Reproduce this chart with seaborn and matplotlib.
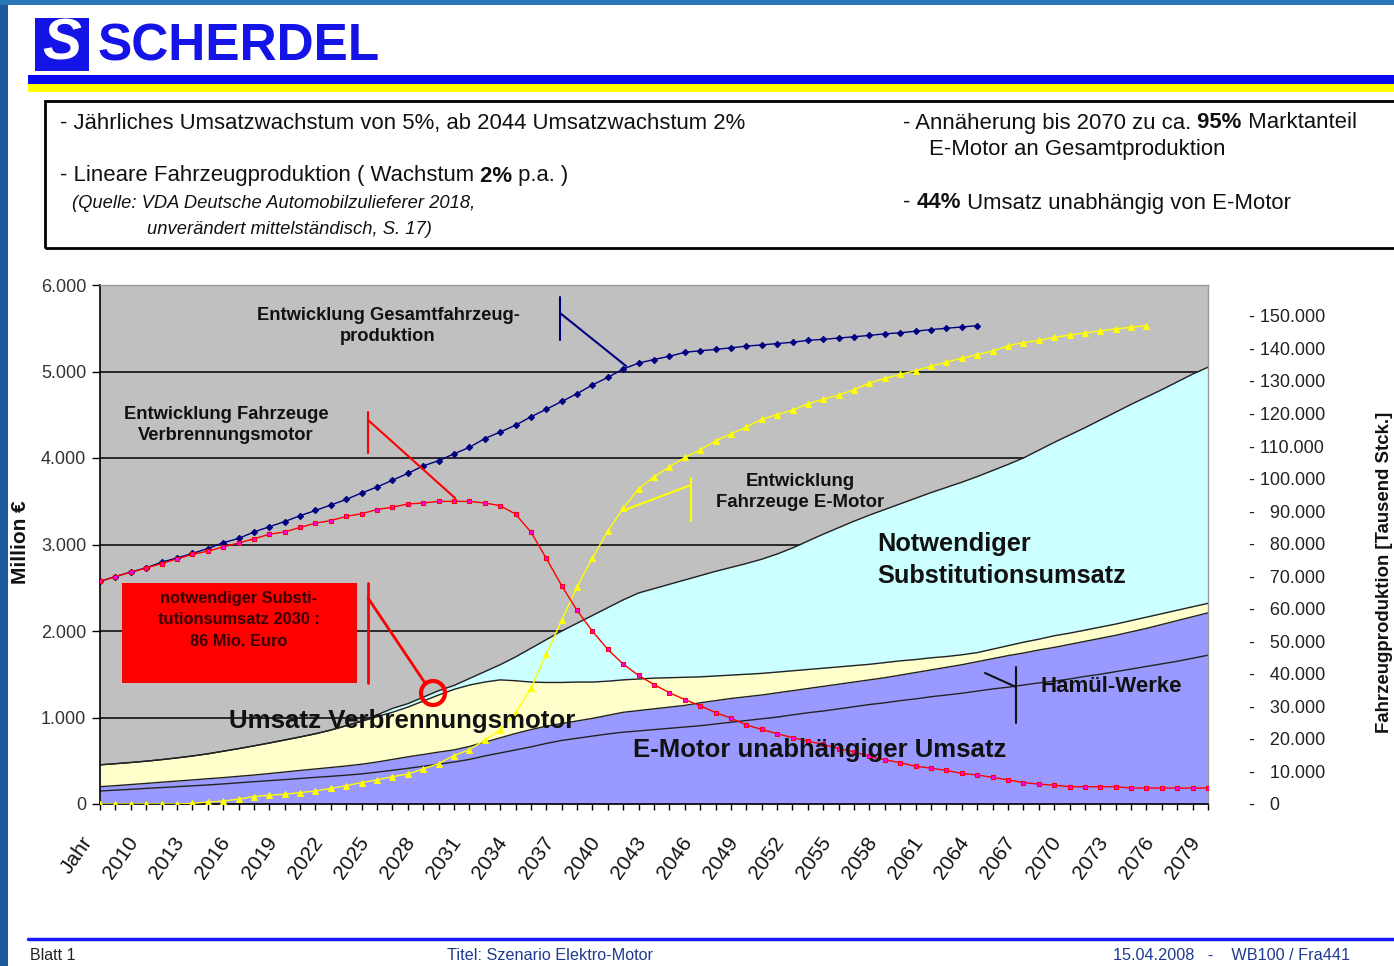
import matplotlib
matplotlib.use("Agg")
import matplotlib.pyplot as plt
from matplotlib.patches import Rectangle, Ellipse
from matplotlib.lines import Line2D
from matplotlib.transforms import ScaledTranslation
import seaborn as sns
import numpy as np

# ---------------------------------------------
# Daten - Position 0 = "Jahr", dann 2008 ... 2079
# ---------------------------------------------
tick_labels = ["Jahr", "2010", "2013", "2016", "2019", "2022", "2025", "2028", "2031",
               "2034", "2037", "2040", "2043", "2046", "2049", "2052", "2055", "2058",
               "2061", "2064", "2067", "2070", "2073", "2076", "2079"]

# Fahrzeugproduktion [Tausend Stck.] -> rechte Achse
gesamt_fzg = [68.4, 69.9, 71.3, 72.6, 74.3, 75.6, 77.0, 78.5, 80.3, 81.6,
              83.6, 85.2, 86.8, 88.6, 90.2, 91.9, 93.6, 95.6, 97.4, 99.5,
              101.6, 103.9, 105.5, 107.6, 109.6, 112.3, 114.3, 116.4, 119.0, 121.3,
              123.7, 126.1, 128.8, 131.1, 133.7, 135.5, 136.6, 137.6, 138.8, 139.3,
              139.7, 140.2, 140.7, 141.1, 141.5, 141.9, 142.5, 142.8, 143.2, 143.6,
              144.0, 144.5, 144.8, 145.3, 145.8, 146.2, 146.6, 147.0]
verbrenner_fzg = [68.4, 69.9, 71.2, 72.5, 73.9, 75.3, 76.7, 77.7, 79.0, 80.2,
                  81.5, 82.9, 83.6, 85.0, 86.3, 87.1, 88.4, 89.2, 90.5, 91.2,
                  92.2, 92.5, 93.0, 93.0, 93.0, 92.5, 91.7, 89.1, 83.6, 75.5,
                  67.1, 59.5, 53.1, 47.5, 43.0, 39.5, 36.7, 34.2, 32.1, 30.2,
                  28.1, 26.4, 24.3, 22.9, 21.6, 20.4, 19.3, 18.3, 17.0, 16.0,
                  14.6, 13.6, 12.7, 11.6, 11.0, 10.3, 9.4, 8.9, 8.2, 7.4,
                  6.6, 6.1, 5.8, 5.3, 5.3, 5.3, 5.3, 4.9, 4.9, 4.9,
                  4.9, 4.9, 4.9]
emotor_fzg = [0, 0, 0, 0, 0, 0, 0.2, 0.6, 0.9, 1.5,
              2.3, 2.7, 3.0, 3.5, 4.0, 4.8, 5.6, 6.6, 7.4, 8.4,
              9.2, 10.8, 12.4, 14.9, 16.7, 19.6, 22.7, 27.9, 35.5, 46.1,
              56.4, 66.8, 75.6, 83.9, 90.9, 96.9, 100.5, 103.6, 106.5, 108.8,
              111.6, 113.7, 115.9, 118.2, 119.7, 121.0, 123.0, 124.4, 125.7, 127.3,
              129.4, 130.8, 132.0, 133.2, 134.5, 135.8, 137.0, 138.1, 139.2, 140.8,
              141.8, 142.5, 143.4, 144.1, 144.8, 145.4, 146.0, 146.5, 147.0]

# Umsatz [Million €] - Obergrenzen der gestapelten Flaechen
hamuel_oben = [150, 160, 170, 180, 190, 200, 210, 220, 232, 245,
               258, 270, 282, 295, 308, 320, 333, 348, 368, 390,
               412, 436, 460, 485, 515, 555, 590, 625, 660, 700,
               735, 760, 785, 810, 830, 845, 860, 875, 890, 905,
               925, 945, 965, 985, 1005, 1030, 1055, 1075, 1100, 1125,
               1150, 1170, 1195, 1215, 1240, 1260, 1280, 1305, 1330, 1350,
               1375, 1400, 1420, 1445, 1475, 1500, 1530, 1560, 1590, 1620,
               1650, 1685, 1720]
unabh_oben = [200, 212, 225, 238, 252, 265, 278, 292, 305, 320,
              335, 352, 370, 388, 405, 422, 440, 460, 485, 515,
              545, 572, 600, 625, 665, 715, 765, 815, 860, 900,
              930, 960, 990, 1025, 1060, 1080, 1100, 1120, 1140, 1170,
              1195, 1220, 1240, 1260, 1285, 1310, 1335, 1360, 1385, 1410,
              1435, 1460, 1490, 1520, 1550, 1580, 1610, 1645, 1680, 1715,
              1745, 1780, 1810, 1845, 1880, 1915, 1950, 1990, 2030, 2075,
              2120, 2165, 2210]
verbrenner_oben = [453, 466, 480, 495, 513, 533, 555, 580, 610, 640,
                   672, 705, 740, 775, 812, 855, 905, 955, 1010, 1060,
                   1120, 1190, 1260, 1325, 1375, 1410, 1435, 1425, 1410, 1405,
                   1405, 1410, 1410, 1420, 1435, 1445, 1455, 1460, 1465, 1470,
                   1480, 1490, 1500, 1510, 1525, 1540, 1555, 1570, 1585, 1600,
                   1615, 1635, 1655, 1670, 1690, 1705, 1725, 1750, 1790, 1830,
                   1870, 1905, 1945, 1975, 2010, 2045, 2080, 2120, 2160, 2200,
                   2240, 2280, 2320]
substitution_oben = [453, 466, 480, 495, 513, 533, 555, 580, 610, 640,
                     672, 705, 740, 775, 812, 855, 905, 960, 1030, 1105,
                     1160, 1235, 1310, 1370, 1450, 1530, 1610, 1700, 1800, 1900,
                     2000, 2090, 2180, 2270, 2360, 2440, 2490, 2540, 2590, 2640,
                     2690, 2735, 2780, 2830, 2890, 2960, 3040, 3120, 3195, 3270,
                     3340, 3405, 3470, 3535, 3600, 3660, 3720, 3785, 3855, 3925,
                     4000, 4090, 4180, 4265, 4350, 4440, 4530, 4620, 4705, 4790,
                     4880, 4970, 5050]

links_labels = ["0", "1.000", "2.000", "3.000", "4.000", "5.000", "6.000"]
rechts_werte = [0, 10, 20, 30, 40, 50, 60, 70, 80, 90, 100, 110, 120, 130, 140, 150]
rechts_labels = ["-   0", "-   10.000", "-   20.000", "-   30.000", "-   40.000",
                 "-   50.000", "-   60.000", "-   70.000", "-   80.000", "-   90.000",
                 "- 100.000", "- 110.000", "- 120.000", "- 130.000", "- 140.000", "- 150.000"]

# ---------------------------------------------
# Figure
# ---------------------------------------------
W, H = 1394, 966
sns.set_theme(style="white")
plt.rcParams["font.family"] = ["Liberation Sans", "DejaVu Sans"]

fig = plt.figure(figsize=(W / 100, H / 100), dpi=100)
fig.patch.set_facecolor("white")


def fx(x):
    return x / W


def fy(y):
    return 1 - y / H


def linie(xs, ys, color, lw=1.5):
    fig.add_artist(Line2D([fx(x) for x in xs], [fy(y) for y in ys],
                          transform=fig.transFigure, color=color, lw=lw))


def rechteck(x0, y0, x1, y1, **kw):
    fig.add_artist(Rectangle((fx(x0), fy(y1)), (x1 - x0) / W, (y1 - y0) / H,
                             transform=fig.transFigure, **kw))


# Rahmen / Kopf
rechteck(0, 0, 8, H, color="#1d5b9e", lw=0)
rechteck(0, 0, W, 5, color="#2a78b8", lw=0)
rechteck(35, 18, 89, 71, color="#1414e6", lw=0)
fig.text(fx(62), fy(45), "S", color="white", fontsize=42, fontweight="bold",
         style="italic", ha="center", va="center")
fig.text(fx(98), fy(47), "SCHERDEL", color="#1414e6", fontsize=37, fontweight="bold",
         ha="left", va="center")
rechteck(28, 75, W, 84, color="#0a0af0", lw=0)
rechteck(28, 84, W, 92, color="#ffff00", lw=0)

# Textbox
rechteck(45, 101, W + 20, 248, fill=False, edgecolor="black", lw=2)
renderer = fig.canvas.get_renderer()


def mixtext(x, y, parts, size=15.9):
    for txt, fett in parts:
        t = fig.text(fx(x), fy(y), txt, fontsize=size, ha="left", va="center",
                     fontweight="bold" if fett else "normal", color="#111111")
        x += t.get_window_extent(renderer=renderer).width


mixtext(60, 123, [("- Jährliches Umsatzwachstum von 5%, ab 2044 Umsatzwachstum 2%", False)])
mixtext(60, 176, [("- Lineare Fahrzeugproduktion ( Wachstum", False), ("\u00a02%", True),
                  ("\u00a0p.a. )", False)])
fig.text(fx(72), fy(204), "(Quelle: VDA Deutsche Automobilzulieferer 2018,", fontsize=13.2,
         style="italic", ha="left", va="center", color="#111111")
fig.text(fx(147), fy(230), "unverändert mittelständisch, S. 17)", fontsize=13.2,
         style="italic", ha="left", va="center", color="#111111")
mixtext(903, 123, [("- Annäherung bis 2070 zu ca.", False), ("\u00a095%", True),
                   ("\u00a0Marktanteil", False)])
mixtext(929, 150, [("E-Motor an Gesamtproduktion", False)])
mixtext(903, 203, [("-\u00a0", False), ("44%", True), ("\u00a0Umsatz unabhängig von E-Motor", False)])

# ---------------------------------------------
# Diagramm
# ---------------------------------------------
n = len(substitution_oben)
pos = np.arange(n)

ax = fig.add_axes([fx(100), fy(804), (1208 - 100) / W, (804 - 285) / H])
ax.set_facecolor("#c0c0c0")
ax.set_axisbelow(True)
ax.yaxis.grid(True, color="black", lw=1.1)
ax.xaxis.grid(False)

ax.fill_between(pos, 0, hamuel_oben, color="#9999ff", lw=0)
ax.fill_between(pos, hamuel_oben, unabh_oben, color="#9999ff", lw=0)
ax.fill_between(pos, unabh_oben, verbrenner_oben, color="#ffffcc", lw=0)
ax.fill_between(pos, verbrenner_oben, substitution_oben, color="#ccffff", lw=0)
for grenze in (hamuel_oben, unabh_oben, verbrenner_oben, substitution_oben):
    sns.lineplot(x=pos, y=grenze, ax=ax, color="#222222", lw=1.0)

ax.set_xlim(0, n - 1)
ax.set_ylim(0, 6000)
ax.set_xticks(pos[::3])
ax.set_xticks(pos, minor=True)
ax.tick_params(axis="x", which="both", direction="out", length=4, width=1,
               color="black", bottom=True, pad=21)
ax.set_xticklabels(tick_labels, rotation=55, ha="right", va="center", rotation_mode="anchor",
                   fontsize=15, color="#111111")
ax.set_yticks(range(0, 6001, 1000))
ax.set_yticklabels(links_labels, fontsize=13, color="#333333")
ax.tick_params(axis="y", direction="out", length=6, width=1, color="black", left=True, pad=4)
ax.set_xlabel("")
ax.set_ylabel("")
for s in ("left", "bottom"):
    ax.spines[s].set_color("black")
    ax.spines[s].set_linewidth(1.2)
for s in ("top", "right"):
    ax.spines[s].set_color("#9a9a9a")
    ax.spines[s].set_linewidth(1.0)

# Fahrzeuglinien auf rechter Achse
ax2 = ax.twinx()
sns.lineplot(x=pos[:len(gesamt_fzg)], y=gesamt_fzg, ax=ax2, color="#000080", lw=1.0,
             marker="D", markersize=3.2, markeredgecolor="#000080", markerfacecolor="#000080")
sns.lineplot(x=pos[:len(emotor_fzg)], y=emotor_fzg, ax=ax2, color="#ffff00", lw=1.0,
             marker="^", markersize=4.3, markeredgecolor="#ffff00", markerfacecolor="#ffff00")
sns.lineplot(x=pos, y=verbrenner_fzg, ax=ax2, color="#ff0000", lw=1.0,
             marker="s", markersize=3.4, markeredgecolor="#ff0000", markerfacecolor="#ff00ff",
             markeredgewidth=0.8)
ax2.set_ylim(0, 159.5)
ax2.set_xlim(0, n - 1)
ax2.set_yticks(rechts_werte)
ax2.set_yticklabels(rechts_labels, fontsize=13, color="#222222")
ax2.tick_params(axis="y", length=0, pad=29.5, right=True)
ax2.set_xlabel("")
ax2.set_ylabel("")
for s in ax2.spines.values():
    s.set_visible(False)

# Jahreszahlen etwas nach links schieben (nach allen tick_params-Aufrufen)
versatz = ScaledTranslation(-0.12, 0, fig.dpi_scale_trans)
for lab in ax.get_xticklabels():
    lab.set_transform(lab.get_transform() + versatz)

fig.text(fx(20), fy(542), "Million €", rotation=90, fontsize=15, fontweight="bold",
         ha="center", va="center", color="#111111")
fig.text(fx(1376), fy(572), "Fahrzeugproduktion [Tausend Stck.]", rotation=90, fontsize=13.4,
         fontweight="bold", ha="left", va="center", color="#111111")

# ---------------------------------------------
# Beschriftungen / Hinweislinien
# ---------------------------------------------
fett = dict(fontweight="bold", color="#111111")
fig.text(fx(388), fy(326), "Entwicklung Gesamtfahrzeug-\nproduktion", fontsize=13.2,
         ha="center", va="center", linespacing=1.3, **fett)
linie([560, 560], [297, 340], "#000080", 1.5)
linie([560, 626], [313, 366], "#000080", 1.5)

fig.text(fx(226), fy(425), "Entwicklung Fahrzeuge\nVerbrennungsmotor", fontsize=13.2,
         ha="center", va="center", linespacing=1.3, **fett)
linie([368, 368], [412, 453], "#ff0000", 1.5)
linie([368, 455], [420, 498], "#ff0000", 1.5)

fig.text(fx(800), fy(492), "Entwicklung\nFahrzeuge E-Motor", fontsize=13.4,
         ha="center", va="center", linespacing=1.3, **fett)
linie([691, 691], [478, 521], "#ffff00", 1.5)
linie([691, 622], [485, 511], "#ffff00", 1.5)

rechteck(122, 583, 357, 683, color="#ff0000", lw=0)
fig.text(fx(239), fy(620), "notwendiger Substi-\ntutionsumsatz 2030 :\n86 Mio. Euro", fontsize=11.8,
         ha="center", va="center", linespacing=1.5, fontweight="bold", color="#3a0000")
linie([368, 368], [583, 683], "#ff0000", 2)
linie([368, 425], [598, 683], "#ff0000", 2)
fig.add_artist(Ellipse((fx(433), fy(693)), 24 / W, 24 / H, transform=fig.transFigure,
                       fill=False, edgecolor="#ff0000", lw=3))

fig.text(fx(877), fy(560), "Notwendiger\nSubstitutionsumsatz", fontsize=18.3,
         ha="left", va="center", linespacing=1.4, **fett)
fig.text(fx(229), fy(721), "Umsatz Verbrennungsmotor", fontsize=18.6,
         ha="left", va="center", **fett)
fig.text(fx(633), fy(750), "E-Motor unabhängiger Umsatz", fontsize=18.5,
         ha="left", va="center", **fett)
fig.text(fx(1040), fy(687), "Hamül-Werke", fontsize=16, ha="left", va="center", **fett)
linie([1016, 1016], [667, 723], "#111111", 1.5)
linie([985, 1016], [673, 687], "#111111", 1.5)

# Fusszeile
linie([28, W], [939, 939], "#1a1aff", 2.5)
fig.text(fx(30), fy(955), "Blatt 1", fontsize=11.5, ha="left", va="center", color="#222222")
fig.text(fx(447), fy(955), "Titel: Szenario Elektro-Motor", fontsize=11.7, ha="left",
         va="center", color="#1f3a93")
fig.text(fx(1113), fy(955), "15.04.2008   -    WB100 / Fra441", fontsize=11.7, ha="left",
         va="center", color="#1f3a93")

fig.savefig("out.png", dpi=100)
